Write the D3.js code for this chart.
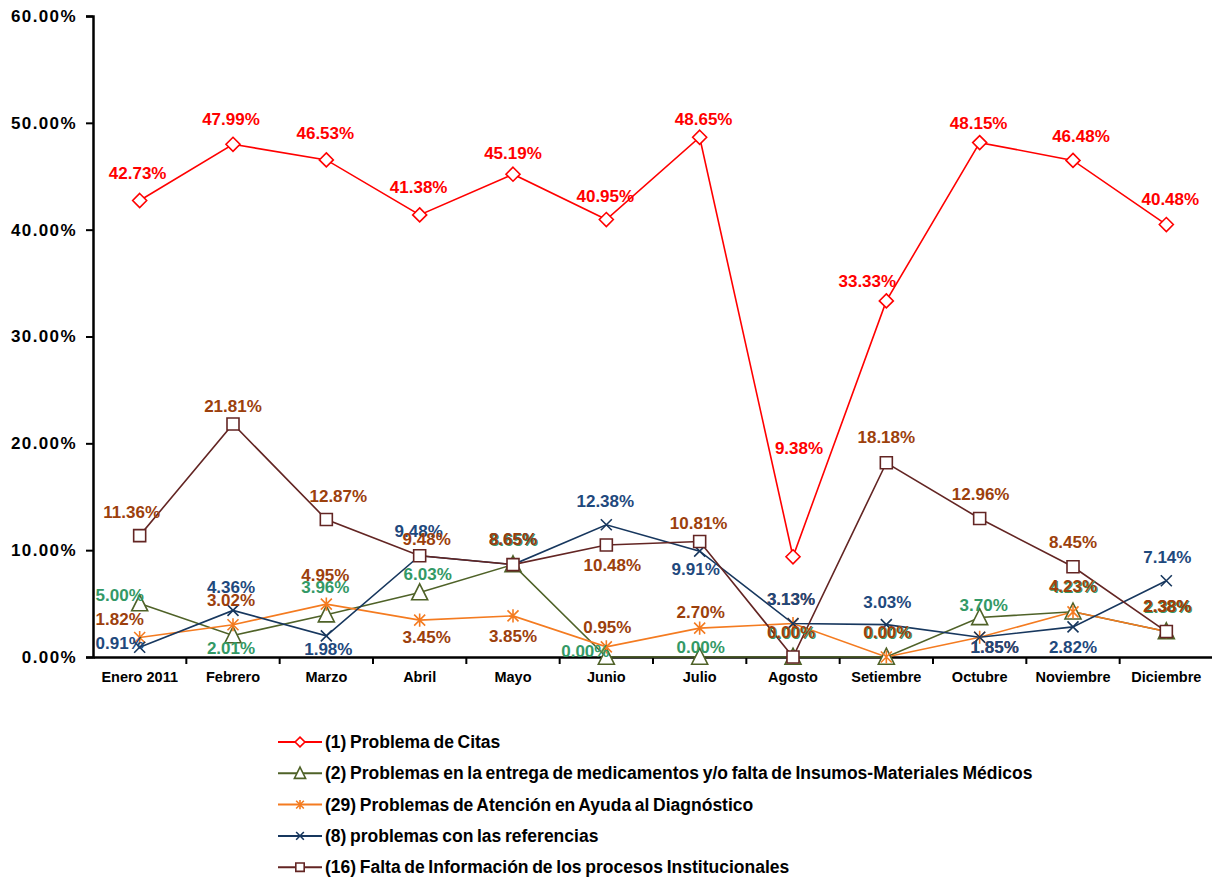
<!DOCTYPE html>
<html>
<head>
<meta charset="utf-8">
<script src="https://cdn.jsdelivr.net/npm/d3@7"></script>
<style>
  body { margin: 0; background: #fff; }
  text { font-family: Arial, "Liberation Sans", sans-serif; font-weight: bold; }
</style>
</head>
<body>
<svg id="chart" width="1212" height="879"></svg>
<script>
// months on the x axis
const months = ["Enero 2011", "Febrero", "Marzo", "Abril", "Mayo", "Junio",
  "Julio", "Agosto", "Setiembre", "Octubre", "Noviembre", "Diciembre"];

// values in percent
const citas        = [42.73, 47.99, 46.53, 41.38, 45.19, 40.95, 48.65, 9.38, 33.33, 48.15, 46.48, 40.48];
const medicamentos = [5.00, 2.01, 3.96, 6.03, 8.65, 0.00, 0.00, 0.00, 0.00, 3.70, 4.23, 2.38];
const atencion     = [1.82, 3.02, 4.95, 3.45, 3.85, 0.95, 2.70, 3.13, 0.00, 1.85, 4.23, 2.38];
const referencias  = [0.91, 4.36, 1.98, 9.48, 8.65, 12.38, 9.91, 3.13, 3.03, 1.85, 2.82, 7.14];
const informacion  = [11.36, 21.81, 12.87, 9.48, 8.65, 10.48, 10.81, 0.00, 18.18, 12.96, 8.45, 2.38];

const yTicks = [0, 10, 20, 30, 40, 50, 60];

const seriesNames = [
  "(1) Problema de Citas",
  "(2) Problemas en la entrega de medicamentos y/o falta de Insumos-Materiales Médicos",
  "(29) Problemas de Atención en Ayuda al Diagnóstico",
  "(8) problemas con las referencias",
  "(16) Falta de Información de los procesos Institucionales"
];

// where each data label sits relative to its point (label centre)
const labelShift = [
  [[-2,-27],[-2,-25],[-1,-26],[-1,-27],[0,-21],[-1,-23],[4,-18],[6,-108],[-19,-19],[-1,-19],[8,-24],[4,-25]],
  [[-20,-8],[-2,13],[-1,-27],[8,-18],[1,-24],[-21,-6],[1,-10],[-1,-24],[2,-24],[4,-12],[1,-24],[2,-24]],
  [[-20,-18],[-2,-24],[-1,-29],[7,17],[0,21],[1,-19],[1,-16],[-2,-24],[1,-25],[15,10],[0,-25],[1,-25]],
  [[-20,-4],[-2,-23],[2,14],[-1,-24],[0,-25],[-1,-23],[-4,18],[-2,-24],[1,-22],[15,10],[0,21],[1,-23]],
  [[-8,-23],[0,-17],[12,-23],[7,-16],[0,-25],[6,20],[-1,-18],[-2,-25],[0,-25],[1,-24],[0,-24],[1,-25]]
];

const series = [
  {name: seriesNames[0], values: citas,        line: "#ff0000", label: "#ff0000", marker: "diamond"},
  {name: seriesNames[1], values: medicamentos, line: "#4f6228", label: "#339966", marker: "triangle"},
  {name: seriesNames[2], values: atencion,     line: "#f47b20", label: "#9c400c", marker: "star"},
  {name: seriesNames[3], values: referencias,  line: "#17375e", label: "#1f497d", marker: "cross"},
  {name: seriesNames[4], values: informacion,  line: "#632523", label: "#9c400c", marker: "square"}
];

const svg = d3.select("#chart");
const plotLeft = 93, plotRight = 1213, plotTop = 16, plotBottom = 657;

const x = d3.scaleBand().domain(months).range([plotLeft, plotRight]).padding(0);
const cx = m => x(m) + x.bandwidth() / 2;
const y = d3.scaleLinear().domain([0, 60]).range([plotBottom, plotTop]);

// marker shapes
function markerPath(type, s) {
  switch (type) {
    case "diamond": return `M0,${-s}L${s},0L0,${s}L${-s},0Z`;
    case "triangle": return `M0,${-s * 1.1}L${s},${s * 0.9}L${-s},${s * 0.9}Z`;
    case "square": return `M${-s},${-s}H${s}V${s}H${-s}Z`;
    case "cross": return `M${-s},${-s}L${s},${s}M${-s},${s}L${s},${-s}`;
    case "star": return `M${-s},${-s}L${s},${s}M${-s},${s}L${s},${-s}M0,${-s * 1.2}V${s * 1.2}`;
  }
}
const markerSize = {diamond: 7, triangle: 8, square: 6, cross: 5.5, star: 5.5};

// y axis
const yAxis = svg.append("g")
  .attr("transform", `translate(${plotLeft},0)`)
  .call(d3.axisLeft(y).tickValues(yTicks).tickSize(7).tickPadding(9)
    .tickFormat(d => d3.format(".2f")(d) + "%"));
yAxis.select(".domain").attr("stroke", "#000").attr("stroke-width", 2.5);
yAxis.selectAll(".tick line").attr("stroke", "#000").attr("stroke-width", 2);
yAxis.selectAll(".tick text")
  .attr("fill", "#000").style("font-size", "17px").style("letter-spacing", "1.4px")
  .style("font-family", "Arial, 'Liberation Sans', sans-serif");

// x axis
const xAxis = svg.append("g")
  .attr("transform", `translate(0,${plotBottom})`)
  .call(d3.axisBottom(x).tickSize(0).tickPadding(15).tickSizeOuter(0));
xAxis.select(".domain").attr("stroke", "#000").attr("stroke-width", 2.5);
xAxis.selectAll(".tick text")
  .attr("fill", "#000").style("font-size", "14.5px")
  .style("font-family", "Arial, 'Liberation Sans', sans-serif");
xAxis.selectAll(".boundary")
  .data(months.slice(1))
  .join("line")
  .attr("x1", d => x(d)).attr("x2", d => x(d))
  .attr("y1", 0).attr("y2", 7)
  .attr("stroke", "#000").attr("stroke-width", 2);

// lines
const line = d3.line()
  .x((d, i) => cx(months[i]))
  .y(d => y(d));

series.forEach(s => {
  svg.append("path")
    .datum(s.values)
    .attr("fill", "none")
    .attr("stroke", s.line)
    .attr("stroke-width", 1.6)
    .attr("d", line);
});

// markers
series.forEach(s => {
  svg.append("g").selectAll("path")
    .data(s.values)
    .join("path")
    .attr("transform", (d, i) => `translate(${cx(months[i])},${y(d)})`)
    .attr("d", markerPath(s.marker, markerSize[s.marker]))
    .attr("fill", s.marker === "cross" || s.marker === "star" ? "none" : "#fff")
    .attr("stroke", s.line)
    .attr("stroke-width", 1.6);
});

// data labels
series.forEach((s, k) => {
  svg.append("g").selectAll("text")
    .data(s.values)
    .join("text")
    .attr("x", (d, i) => cx(months[i]) + labelShift[k][i][0])
    .attr("y", (d, i) => y(d) + labelShift[k][i][1])
    .attr("text-anchor", "middle")
    .attr("dominant-baseline", "central")
    .attr("fill", s.label)
    .style("font-size", "17px")
    .text(d => d3.format(".2f")(d) + "%");
});

// legend
const legend = svg.append("g").attr("transform", "translate(278,742)");
series.forEach((s, k) => {
  const row = legend.append("g").attr("transform", `translate(0,${k * 31.3})`);
  row.append("line").attr("x1", 0).attr("x2", 44).attr("y1", 0).attr("y2", 0)
    .attr("stroke", s.line).attr("stroke-width", 2);
  row.append("path")
    .attr("transform", "translate(22,0)")
    .attr("d", markerPath(s.marker, markerSize[s.marker] * 0.7))
    .attr("fill", s.marker === "cross" || s.marker === "star" ? "none" : "#fff")
    .attr("stroke", s.line).attr("stroke-width", 1.6);
  row.append("text")
    .attr("x", 47).attr("y", 0)
    .attr("dominant-baseline", "central")
    .attr("fill", "#000")
    .style("font-size", "17.5px")
    .style("word-spacing", "-1.2px")
    .text(s.name);
});
</script>
</body>
</html>
